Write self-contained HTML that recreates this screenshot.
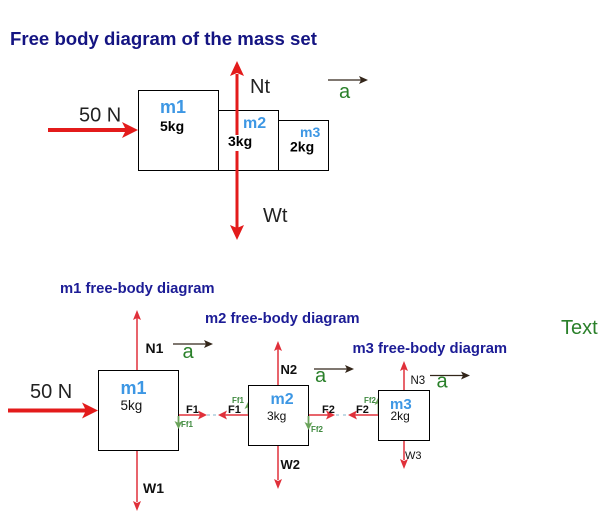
<!DOCTYPE html>
<html><head><meta charset="utf-8"><style>
html,body{margin:0;padding:0;background:#fff;}
svg{display:block;}
text{font-family:"Liberation Sans",Arial,sans-serif;}
</style></head><body>
<svg width="610" height="521" viewBox="0 0 610 521" xmlns="http://www.w3.org/2000/svg">
<rect width="610" height="521" fill="#fff"/>
<!-- Title -->
<text x="10" y="45" font-size="18.6" font-weight="bold" fill="#141482">Free body diagram of the mass set</text>

<!-- Top diagram boxes -->
<rect x="138.5" y="90.5" width="80" height="80" fill="#fff" stroke="#000" stroke-width="1"/>
<rect x="218.5" y="110.5" width="60" height="60" fill="#fff" stroke="#000" stroke-width="1"/>
<rect x="278.5" y="120.5" width="50" height="50" fill="#fff" stroke="#000" stroke-width="1"/>

<!-- vertical arrow -->
<line x1="237" y1="74" x2="237" y2="145" stroke="#e31b1b" stroke-width="3"/>
<line x1="237" y1="151" x2="237" y2="228" stroke="#e31b1b" stroke-width="3"/>
<polygon points="237,61 230,76 237,73 244,76" fill="#e31b1b"/>
<polygon points="237,240 230,225 237,228 244,225" fill="#e31b1b"/>

<text x="160" y="113" font-size="18" font-weight="bold" fill="#3d97e4">m1</text>
<text x="160" y="131" font-size="14" font-weight="bold" fill="#000">5kg</text>
<text x="243" y="128" font-size="16" font-weight="bold" fill="#3d97e4">m2</text>
<rect x="228" y="135" width="25" height="11" fill="#fff"/>
<text x="228" y="146" font-size="14" font-weight="bold" fill="#000">3kg</text>
<text x="300" y="137" font-size="14" font-weight="bold" fill="#3d97e4">m3</text>
<text x="290" y="151.5" font-size="14" font-weight="bold" fill="#000">2kg</text>

<!-- 50 N top -->
<text x="79" y="121.5" font-size="20" fill="#222">50 N</text>
<line x1="48" y1="130" x2="126" y2="130" stroke="#e31b1b" stroke-width="4"/>
<polygon points="138,130 122,122 126,130 122,138" fill="#e31b1b"/>

<text x="250" y="93" font-size="20" fill="#222">Nt</text>
<text x="263" y="222" font-size="20" fill="#222">Wt</text>

<!-- a top -->
<line x1="328" y1="80" x2="362" y2="80" stroke="#33261a" stroke-width="1.3"/>
<polygon points="368,80 359,76 361,80 359,84" fill="#33261a"/>
<text x="339" y="98" font-size="20" fill="#2a802a">a</text>

<!-- Bottom titles -->
<text x="60" y="293" font-size="14.8" font-weight="bold" fill="#1c1c96">m1 free-body diagram</text>
<text x="205" y="323" font-size="14.8" font-weight="bold" fill="#1c1c96">m2 free-body diagram</text>
<text x="352.5" y="353" font-size="14.8" font-weight="bold" fill="#1c1c96">m3 free-body diagram</text>
<text x="561" y="334" font-size="20" fill="#2a802a">Text</text>

<!-- m1 FBD -->
<rect x="98.5" y="370.5" width="80" height="80" fill="#fff" stroke="#000" stroke-width="1"/>
<line x1="137" y1="370" x2="137" y2="318" stroke="#e0303a" stroke-width="1.5"/>
<polygon points="137,310 133,320 137,318 141,320" fill="#e0303a"/>
<line x1="137" y1="451" x2="137" y2="502" stroke="#e0303a" stroke-width="1.5"/>
<polygon points="137,511 133,501 137,503 141,501" fill="#e0303a"/>
<text x="145.5" y="353" font-size="14" font-weight="bold" fill="#111">N1</text>
<text x="143" y="493" font-size="14" font-weight="bold" fill="#111">W1</text>
<line x1="173" y1="344" x2="207" y2="344" stroke="#33261a" stroke-width="1.3"/>
<polygon points="213,344 204,340 206,344 204,348" fill="#33261a"/>
<text x="182.5" y="358" font-size="20" fill="#2a802a">a</text>
<text x="120.5" y="394" font-size="18" font-weight="bold" fill="#3d97e4">m1</text>
<text x="120.5" y="410" font-size="13.5" fill="#111">5kg</text>

<text x="30" y="398" font-size="20" fill="#222">50 N</text>
<line x1="8" y1="410.5" x2="86" y2="410.5" stroke="#e31b1b" stroke-width="4"/>
<polygon points="98,410.5 82,402.5 86,410.5 82,418.5" fill="#e31b1b"/>

<!-- F1 pair -->
<line x1="179" y1="415" x2="200" y2="415" stroke="#e0303a" stroke-width="1.5"/>
<polygon points="207,415 198,410.5 200,415 198,419.5" fill="#e0303a"/>
<line x1="207" y1="415" x2="219" y2="415" stroke="#9cc3d5" stroke-width="1.3" stroke-dasharray="3,3"/>
<line x1="248" y1="415" x2="225" y2="415" stroke="#e0303a" stroke-width="1.5"/>
<polygon points="218,415 227,410.5 225,415 227,419.5" fill="#e0303a"/>
<text x="186" y="413" font-size="11" font-weight="bold" fill="#111">F1</text>
<text x="228" y="413" font-size="11" font-weight="bold" fill="#111">F1</text>

<!-- Ff arrows -->
<line x1="178.5" y1="416" x2="178.5" y2="424" stroke="#6aa35a" stroke-width="1.8"/>
<polygon points="178.5,429 174.5,421 178.5,423 182.5,421" fill="#6aa35a"/>
<text x="181" y="427" font-size="8" font-weight="bold" fill="#3f8a3f">Ff1</text>

<line x1="248.5" y1="414" x2="248.5" y2="406" stroke="#6aa35a" stroke-width="1.8"/>
<polygon points="248.5,401 244.5,409 248.5,407 252.5,409" fill="#6aa35a"/>
<text x="232" y="403" font-size="8" font-weight="bold" fill="#3f8a3f">Ff1</text>

<!-- m2 FBD -->
<rect x="248.5" y="385.5" width="60" height="60" fill="#fff" stroke="#000" stroke-width="1"/>
<line x1="278" y1="385" x2="278" y2="349" stroke="#e0303a" stroke-width="1.5"/>
<polygon points="278,341 274,351 278,349 282,351" fill="#e0303a"/>
<line x1="278" y1="446" x2="278" y2="480" stroke="#e0303a" stroke-width="1.5"/>
<polygon points="278,489 274,479 278,481 282,479" fill="#e0303a"/>
<text x="280.5" y="374" font-size="13" font-weight="bold" fill="#111">N2</text>
<text x="280.5" y="469" font-size="13" font-weight="bold" fill="#111">W2</text>
<line x1="314" y1="369" x2="348" y2="369" stroke="#33261a" stroke-width="1.3"/>
<polygon points="354,369 345,365 347,369 345,373" fill="#33261a"/>
<text x="315" y="382" font-size="20" fill="#2a802a">a</text>
<text x="270.5" y="404" font-size="16" font-weight="bold" fill="#3d97e4">m2</text>
<text x="267" y="420" font-size="12" fill="#111">3kg</text>

<line x1="309" y1="415" x2="328" y2="415" stroke="#e0303a" stroke-width="1.5"/>
<polygon points="335,415 326,410.5 328,415 326,419.5" fill="#e0303a"/>
<line x1="336" y1="415" x2="349" y2="415" stroke="#9cc3d5" stroke-width="1.3" stroke-dasharray="3,4"/>
<line x1="378" y1="415" x2="355" y2="415" stroke="#e0303a" stroke-width="1.5"/>
<polygon points="348,415 357,410.5 355,415 357,419.5" fill="#e0303a"/>
<text x="322" y="413" font-size="11" font-weight="bold" fill="#111">F2</text>
<text x="356" y="413" font-size="11" font-weight="bold" fill="#111">F2</text>

<line x1="308.5" y1="416" x2="308.5" y2="425" stroke="#6aa35a" stroke-width="1.8"/>
<polygon points="308.5,430 304.5,422 308.5,424 312.5,422" fill="#6aa35a"/>
<text x="311" y="432" font-size="8" font-weight="bold" fill="#3f8a3f">Ff2</text>

<line x1="378.5" y1="414" x2="378.5" y2="402" stroke="#6aa35a" stroke-width="1.8"/>
<polygon points="378.5,397 374.5,405 378.5,403 382.5,405" fill="#6aa35a"/>
<text x="364" y="403" font-size="8" font-weight="bold" fill="#3f8a3f">Ff2</text>

<!-- m3 FBD -->
<rect x="378.5" y="390.5" width="51" height="50" fill="#fff" stroke="#000" stroke-width="1"/>
<line x1="404" y1="390" x2="404" y2="369" stroke="#e0303a" stroke-width="1.5"/>
<polygon points="404,361 400,371 404,369 408,371" fill="#e0303a"/>
<line x1="404" y1="441" x2="404" y2="460" stroke="#e0303a" stroke-width="1.5"/>
<polygon points="404,469 400,459 404,461 408,459" fill="#e0303a"/>
<text x="410.5" y="384" font-size="11.5" fill="#111">N3</text>
<text x="405" y="459" font-size="11" fill="#111">W3</text>
<line x1="430" y1="375.5" x2="464" y2="375.5" stroke="#33261a" stroke-width="1.3"/>
<polygon points="470,375.5 461,371.5 463,375.5 461,379.5" fill="#33261a"/>
<text x="436.5" y="387.5" font-size="20" fill="#2a802a">a</text>
<text x="390" y="409" font-size="15" font-weight="bold" fill="#3d97e4">m3</text>
<text x="390.5" y="420" font-size="12" fill="#111">2kg</text>
</svg>
</body></html>
